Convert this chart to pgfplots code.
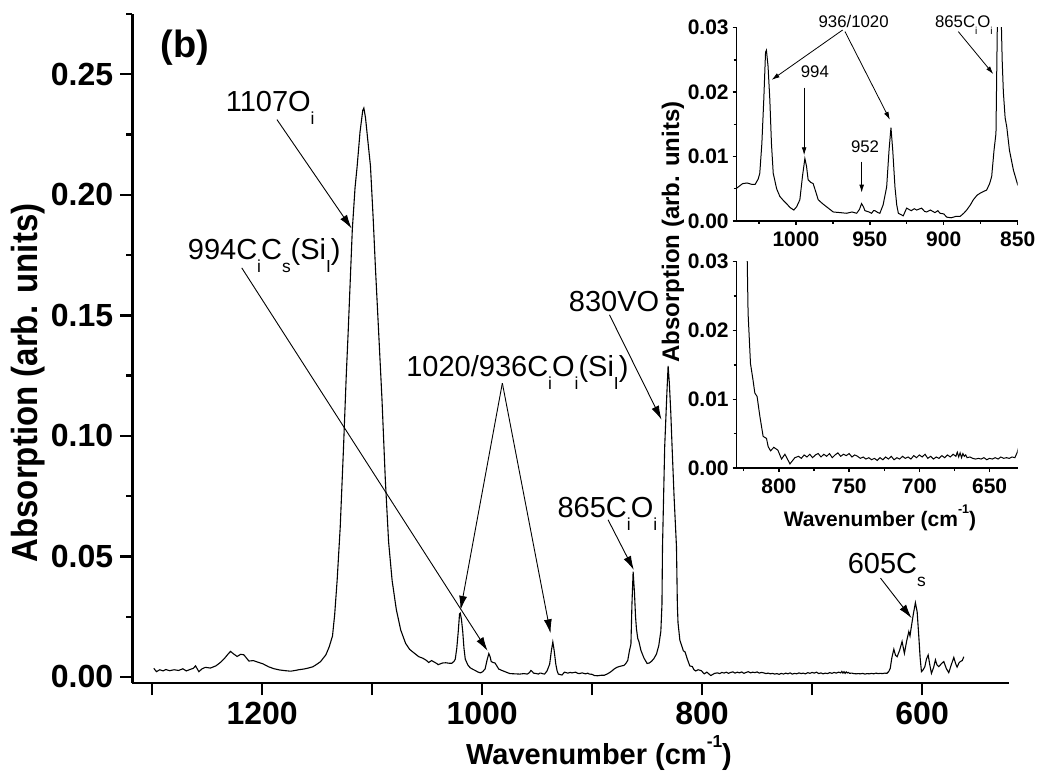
\documentclass[border=0pt]{standalone}
\usepackage{fontspec}
\setmainfont{Liberation Sans}
\usepackage{graphicx}
\usepackage{pgfplots}
\usepackage{pgfplotstable}
\pgfplotsset{compat=1.18}
\usetikzlibrary{arrows.meta}

% Origin-style low subscripts / superscripts
\newcommand\sbs[1]{\raisebox{-0.45em}{\scalebox{0.6}{#1}}}
\newcommand\sps[1]{\raisebox{0.6em}{\scalebox{0.6}{#1}}}

\pgfplotstableread{
w a
1298.5 0.0036
1296 0.0022
1293 0.0030
1290 0.0025
1287.5 0.0031
1284 0.0026
1280 0.0030
1276 0.0027
1272 0.0034
1269 0.0025
1265 0.0032
1262.5 0.0036
1260.5 0.0046
1257.5 0.0022
1254.5 0.0034
1251.5 0.0040
1247 0.0037
1242 0.0046
1238 0.0060
1234 0.0078
1231 0.0095
1228.7 0.0106
1226 0.0096
1222.7 0.0085
1219.5 0.0094
1216.6 0.0092
1212 0.0066
1208 0.0068
1203 0.0060
1199 0.0054
1194 0.0042
1189 0.0034
1184 0.0029
1178.7 0.0026
1174 0.0024
1170 0.0027
1166.6 0.0030
1162 0.0033
1158 0.0037
1154 0.0042
1151.5 0.0049
1147 0.0063
1142 0.0092
1139 0.0125
1136 0.0170
1134 0.0260
1131.8 0.0400
1129 0.0620
1126 0.0950
1123.5 0.1250
1121.8 0.1426
1118 0.1855
1115.5 0.2030
1113.6 0.2118
1111 0.2260
1108.5 0.2350
1107.5 0.2360
1106 0.2320
1104 0.2230
1101.5 0.2120
1099 0.1900
1097 0.1700
1094 0.1426
1091 0.1150
1088 0.0820
1085 0.0560
1081.8 0.0400
1078 0.0280
1074 0.0195
1069.6 0.0140
1066 0.0115
1062 0.0100
1057.5 0.0084
1054 0.0078
1051 0.0070
1048.5 0.0060
1046 0.0068
1043.5 0.0062
1041 0.0055
1040 0.0051
1036 0.0058
1033 0.0059
1030 0.0057
1027.5 0.0057
1025.5 0.0065
1024.4 0.0074
1023 0.0120
1021.7 0.0188
1020.5 0.0262
1019.9 0.0265
1018.8 0.0240
1017.6 0.0188
1016.5 0.0120
1015.3 0.0074
1013 0.0050
1010.8 0.0038
1008.5 0.0032
1006.3 0.0027
1004 0.0021
1001.4 0.0017
999.5 0.0022
997.3 0.0033
995.5 0.0070
993.9 0.0097
992.8 0.0085
991.7 0.0064
990 0.0060
988.3 0.0058
986.5 0.0045
984.9 0.0033
982 0.0027
979.2 0.0022
977 0.0018
974.7 0.0014
970 0.0013
965.7 0.0012
962 0.0014
958.9 0.0012
957 0.0018
955.6 0.0027
954.3 0.0022
953.3 0.0016
950.5 0.0014
948.8 0.0012
947.5 0.0016
946.5 0.0016
944.5 0.0013
943.2 0.0012
941 0.0025
938.6 0.0053
937 0.0110
935.7 0.0145
934.5 0.0110
933 0.0053
931.8 0.0025
930.7 0.0012
929 0.0010
927.4 0.0008
925.1 0.0020
922 0.0016
920 0.0019
918.3 0.0017
915 0.0020
913 0.0015
911.6 0.0014
909 0.0017
906 0.0013
904 0.0016
902.5 0.0012
900 0.0011
898 0.0006
895 0.0005
892 0.0007
889 0.0007
886.5 0.0012
884.5 0.0017
882 0.0025
880 0.0033
877.5 0.0040
875.5 0.0043
873 0.0046
871 0.0048
869 0.0058
867.6 0.0069
866 0.0110
864.7 0.0136
863.8 0.0300
862.7 0.0437
861.5 0.0350
860.5 0.0250
859.7 0.0200
858.5 0.0160
857.4 0.0146
855.6 0.0110
852.9 0.0079
850 0.0056
848 0.0058
846 0.0065
844 0.0075
841.5 0.0095
839.4 0.0130
837.5 0.0190
836.5 0.0300
836 0.0540
834 0.0956
832 0.1180
830.9 0.1290
829.8 0.1220
828.5 0.1100
827.3 0.0956
825.5 0.0750
823.3 0.0540
822.5 0.0300
821.9 0.0225
820.2 0.0152
818.4 0.0128
817.1 0.0109
815.5 0.0104
813.5 0.0075
811.2 0.0046
808.8 0.0043
807.6 0.0031
805.9 0.0025
803.6 0.0030
800.7 0.0026
798.1 0.0013
795.7 0.0020
792.1 0.0006
788.6 0.0015
786 0.0017
784 0.0014
782 0.0019
780 0.0016
778 0.0020
776 0.0015
774 0.0019
772 0.0021
770 0.0016
768 0.0020
766 0.0017
764 0.0021
762 0.0015
760 0.0019
758 0.0022
756 0.0017
754 0.0020
752 0.0018
750 0.0021
748 0.0016
746 0.0019
744 0.0017
742 0.0014
740 0.0016
738 0.0013
736 0.0015
734 0.0012
732 0.0014
730 0.0011
728 0.0015
726 0.0012
724 0.0016
722 0.0013
720 0.0017
718 0.0012
716 0.0015
714 0.0013
712 0.0017
710 0.0014
708 0.0016
706 0.0013
704 0.0018
702 0.0015
700 0.0019
698 0.0016
696 0.0020
694 0.0014
692 0.0017
690 0.0013
688 0.0016
686 0.0014
684 0.0018
682 0.0015
680 0.0019
678 0.0016
676 0.0020
674 0.0017
673 0.0023
672 0.0016
671 0.0022
670 0.0015
669 0.0021
668 0.0017
667 0.0019
666 0.0015
664 0.0016
662 0.0014
660 0.0013
658 0.0014
656 0.0013
654 0.0015
652 0.0012
650 0.0014
648 0.0013
646 0.0015
644 0.0013
642 0.0016
640 0.0014
638 0.0015
636 0.0014
634 0.0016
632 0.0015
630.3 0.0023
629 0.0035
627.5 0.0080
625.7 0.0115
624.2 0.0090
622.7 0.0084
620.5 0.0110
618.2 0.0147
616.1 0.0098
614 0.0150
612.1 0.0188
611 0.0170
610 0.0202
608 0.0260
606.1 0.0308
604.5 0.0270
603 0.0168
601.8 0.0080
600.6 0.0022
599 0.0030
597.5 0.0043
596 0.0075
594.5 0.0091
593 0.0050
591.5 0.0015
589.5 0.0040
587.9 0.0071
586.5 0.0050
584.8 0.0043
582.5 0.0055
580.3 0.0064
578 0.0035
575.8 0.0018
573.5 0.0050
571.2 0.0081
569.5 0.0055
568.2 0.0041
566.5 0.0058
565.2 0.0064
563.5 0.0068
562.1 0.0084
}\spectrum

\pgfplotsset{
  spec/.style={black, line width=0.55pt, no markers},
  twodec/.style={
    scaled y ticks=false,
    /pgf/number format/assume math mode=true,
    /pgf/number format/fixed,
    /pgf/number format/fixed zerofill,
    /pgf/number format/precision=2,
  },
}
\tikzset{
  ann/.style={-{Latex[length=7pt,width=4pt]}, line width=0.45pt},
  annsm/.style={-{Latex[length=4pt,width=2.4pt]}, line width=0.4pt},
}

\begin{document}
\begin{tikzpicture}
\useasboundingbox (0,0) rectangle (520pt,-387.5pt);

% main panel
\begin{axis}[
  at={(66.15pt,-341.5pt)}, anchor=south west,
  scale only axis, width=438.35pt, height=334.5pt,
  xmin=-1318, xmax=-521, ymin=-0.0025, ymax=0.275,
  axis lines*=left,
  axis line style={line width=1.2pt},
  every tick/.style={black, line width=1.2pt},
  tick align=outside, major tick length=6pt, minor tick length=3pt,
  xtick={-1300,-1200,...,-600},
  xticklabels={,1200,,1000,,800,,600},
  ytick={0,0.05,0.1,0.15,0.2,0.25},
  minor ytick={0.025,0.075,0.125,0.175,0.225,0.275},
  twodec,
  tick label style={font=\fontsize{16}{16}\selectfont\bfseries},
  clip mode=individual,
]
\addplot[spec] table[x expr=-\thisrow{w}, y=a] {\spectrum};

\node[anchor=base west, font=\fontsize{14.5}{14.5}\selectfont] at (axis cs:-1239.4,0.2345) {1107O\sbs{i}};
\draw[ann] (axis cs:-1186.5,0.2312) -- (axis cs:-1118.6,0.186);

\node[anchor=base west, font=\fontsize{14.5}{14.5}\selectfont] at (axis cs:-1273.9,0.173) {994C\sbs{i}C\sbs{s}(Si\sbs{I})};
\draw[ann] (axis cs:-1218.5,0.1697) -- (axis cs:-995,0.0108);

\node[anchor=base west, font=\fontsize{14.5}{14.5}\selectfont] at (axis cs:-1075.3,0.1246) {1020/936C\sbs{i}O\sbs{i}(Si\sbs{I})};
\draw[ann] (axis cs:-981.6,0.1219) -- (axis cs:-1019.6,0.0278);
\draw[ann] (axis cs:-981.6,0.1219) -- (axis cs:-937.8,0.0181);

\node[anchor=base west, font=\fontsize{14.5}{14.5}\selectfont] at (axis cs:-927.5,0.1515) {830VO};
\draw[ann] (axis cs:-884.2,0.1502) -- (axis cs:-836.9,0.1067);

\node[anchor=base west, font=\fontsize{14.5}{14.5}\selectfont] at (axis cs:-937.8,0.066) {865C\sbs{i}O\sbs{i}};
\draw[ann] (axis cs:-885.5,0.0652) -- (axis cs:-862.1,0.0444);

\node[anchor=base west, font=\fontsize{14.5}{14.5}\selectfont] at (axis cs:-674,0.043) {605C\sbs{s}};
\draw[ann] (axis cs:-637.8,0.041) -- (axis cs:-609.6,0.0244);
\end{axis}

% inset, upper part
\begin{axis}[
  at={(368.35pt,-110.5pt)}, anchor=south west,
  scale only axis, width=140.5pt, height=96.65pt,
  xmin=-1040, xmax=-850, ymin=0, ymax=0.03,
  axis lines*=left,
  axis line style={line width=0.7pt},
  every tick/.style={black, line width=0.7pt},
  tick align=outside, major tick length=2pt, minor tick length=1.5pt,
  xtick={-1000,-950,-900,-850}, xticklabels={1000,950,900,850},
  minor xtick={-1025,-975,-925,-875},
  ytick={0,0.01,0.02,0.03}, minor ytick={0.005,0.015,0.025},
  twodec,
  tick label style={font=\fontsize{10.5}{10.5}\selectfont\bfseries},
  yticklabel style={xshift=1.5pt},
  clip mode=individual,
]
\addplot[spec, line width=0.5pt] table[x expr=-\thisrow{w}, y=a] {\spectrum};
\node[anchor=base west, font=\fontsize{8.4}{8.4}\selectfont] at (axis cs:-989.4,0.0301) {936/1020};
\draw[annsm] (axis cs:-968.4,0.02964) -- (axis cs:-1016.4,0.0219);
\draw[annsm] (axis cs:-966.8,0.0294) -- (axis cs:-936.4,0.0157);
\node[anchor=base west, font=\fontsize{8.4}{8.4}\selectfont] at (axis cs:-1001.4,0.0223) {994};
\draw[annsm] (axis cs:-994.4,0.0207) -- (axis cs:-994.4,0.0102);
\node[anchor=base west, font=\fontsize{8.4}{8.4}\selectfont] at (axis cs:-967.5,0.0107) {952};
\draw[annsm] (axis cs:-955.5,0.0092) -- (axis cs:-955.5,0.0044);
\node[anchor=base west, font=\fontsize{8.4}{8.4}\selectfont] at (axis cs:-910.7,0.0301) {865C\sbs{i}O\sbs{i}};
\draw[annsm] (axis cs:-890.2,0.0294) -- (axis cs:-866.5,0.0228);
\end{axis}

% inset, lower part
\begin{axis}[
  at={(368.35pt,-234pt)}, anchor=south west,
  scale only axis, width=140.5pt, height=103.15pt,
  xmin=-830, xmax=-630, ymin=0, ymax=0.03,
  axis lines*=left,
  axis line style={line width=0.7pt},
  every tick/.style={black, line width=0.7pt},
  tick align=outside, major tick length=2pt, minor tick length=1.5pt,
  xtick={-800,-750,-700,-650}, xticklabels={800,750,700,650},
  minor xtick={-825,-775,-725,-675},
  ytick={0,0.01,0.02,0.03}, minor ytick={0.005,0.015,0.025},
  twodec,
  tick label style={font=\fontsize{10.5}{10.5}\selectfont\bfseries},
  yticklabel style={xshift=1.5pt},
  clip mode=individual,
]
\addplot[spec, line width=0.5pt] table[x expr=-\thisrow{w}, y=a] {\spectrum};
\end{axis}

% labels, placed in reference pixel units (origin top left)
\begin{scope}[x=0.5pt, y=-0.5pt]
\node[font=\fontsize{19}{19}\selectfont\bfseries] at (185,48) {(b)};
\node[rotate=90, font=\fontsize{16.5}{16.5}\selectfont\bfseries] at (28,383)
  {\scalebox{1}[1.1]{Absorption (arb. units)}};
\node[font=\fontsize{14.5}{14.5}\selectfont\bfseries] at (599,753) {Wavenumber (cm\sps{-1})};
\node[rotate=90, font=\fontsize{12}{12}\selectfont\bfseries] at (673,232)
  {Absorption (arb. units)};
\node[font=\fontsize{10.5}{10.5}\selectfont\bfseries] at (880,518) {Wavenumber (cm\sps{-1})};
\end{scope}
\end{tikzpicture}
\end{document}
